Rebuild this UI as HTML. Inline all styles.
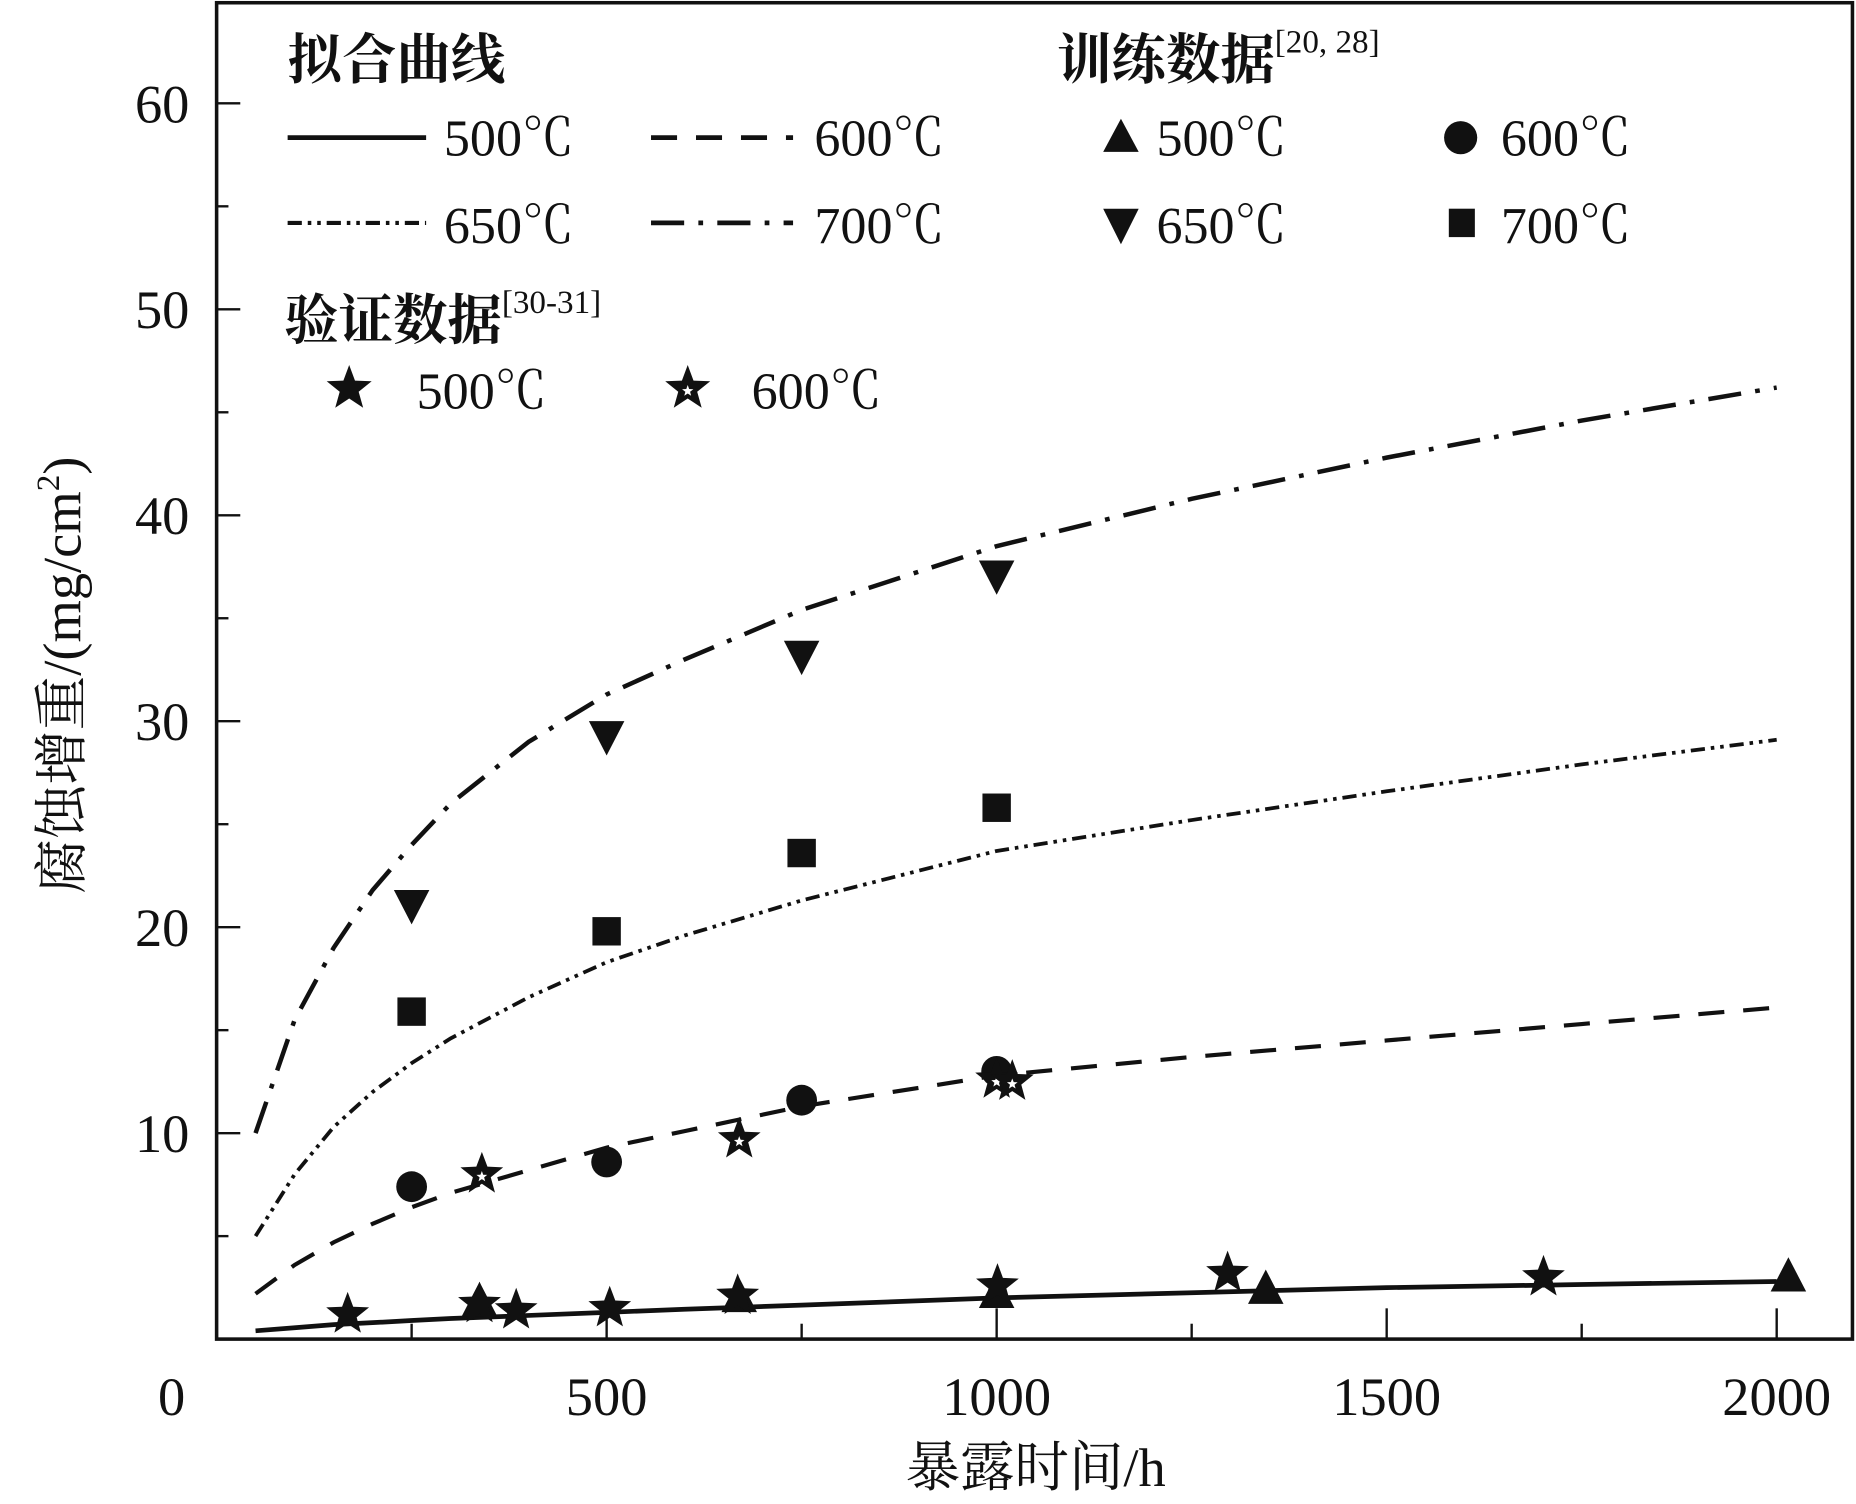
<!DOCTYPE html>
<html><head><meta charset="utf-8"><style>
html,body{margin:0;padding:0;background:#fff}
svg{display:block}
text{font-family:"Liberation Serif","Noto Serif CJK SC",serif;fill:#111}
</style></head><body>
<svg id="chart" width="1856" height="1504" viewBox="0 0 1568 1270" xmlns="http://www.w3.org/2000/svg">
<g id="axes"></g>
<g id="curves"></g>
<g id="marks"></g>
<g id="legend">
  <text x="243" y="66" font-size="46" font-weight="bold">拟合曲线</text>
  <text x="893" y="66" font-size="46" font-weight="bold">训练数据<tspan font-size="28" font-weight="normal" dy="-22">[20, 28]</tspan></text>
  <text x="240" y="286" font-size="46" font-weight="bold">验证数据<tspan font-size="28" font-weight="normal" dy="-22">[30-31]</tspan></text>
  <line x1="243" y1="116" x2="360" y2="116" stroke="#111" stroke-width="4"/>
  <text x="375" y="131" font-size="44">500℃</text>
  <line x1="550" y1="116" x2="670" y2="116" stroke="#111" stroke-width="4" stroke-dasharray="22,16"/>
  <text x="688" y="131" font-size="44">600℃</text>
  <line x1="243" y1="188" x2="360" y2="188" stroke="#111" stroke-width="3.5" stroke-dasharray="12,5,3,5,3,5"/>
  <text x="375" y="205" font-size="44">650℃</text>
  <line x1="550" y1="188" x2="670" y2="188" stroke="#111" stroke-width="4" stroke-dasharray="28,12,4,12"/>
  <text x="688" y="205" font-size="44">700℃</text>
  <polygon points="947,100 932,128 962,128" fill="#111"/>
  <text x="977" y="131" font-size="44">500℃</text>
  <circle cx="1234" cy="116" r="14" fill="#111"/>
  <text x="1268" y="131" font-size="44">600℃</text>
  <polygon points="932,176 962,176 947,206" fill="#111"/>
  <text x="977" y="205" font-size="44">650℃</text>
  <rect x="1224" y="176" width="22" height="24" fill="#111"/>
  <text x="1268" y="205" font-size="44">700℃</text>
  <g id="lgstars"></g>
  <text x="352" y="345" font-size="44">500℃</text>
  <text x="635" y="345" font-size="44">600℃</text>
</g>
</svg>
<script>
const NS='http://www.w3.org/2000/svg';
// ---- data ----
const xTicks=[0,500,1000,1500,2000];
const yTicks=[10,20,30,40,50,60];
const curveT=[50,100,150,200,250,300,400,500,600,750,1000,1250,1500,1750,2000];
const fit500=[0.4,0.55,0.7,0.8,0.9,1.0,1.15,1.3,1.45,1.65,2.0,2.25,2.5,2.65,2.8];
const fit600=[2.2,3.6,4.7,5.6,6.4,7.1,8.2,9.3,10.1,11.3,12.8,13.7,14.5,15.3,16.1];
const fit650=[5,8,10.3,12,13.4,14.6,16.6,18.3,19.6,21.3,23.7,25.2,26.6,27.9,29.1];
const fit700=[10,15.5,19,21.8,24,26,29,31.3,33,35.4,38.5,40.8,42.8,44.6,46.2];
const tri500T=[337,670,1000,1345,2015];
const tri500V=[1.8,2.0,2.2,2.4,3.0];
const star500T=[168,337,384,504,668,1001,1296,1701];
const star500V=[1.2,1.7,1.4,1.5,2.1,2.6,3.2,3.0];
const circ600T=[250,500,750,1000];
const circ600V=[7.4,8.6,11.6,13.0];
const star600T=[340,670,1000,1020];
const star600V=[8.0,9.7,12.6,12.5];
const tri650T=[250,500,750,1000];
const tri650V=[21,29.2,33.1,37];
const sq700T=[250,500,750,1000];
const sq700V=[15.9,19.8,23.6,25.8];
// ---- scales ----
const X=t=>183+t*0.659;
const Y=v=>1131-v*17.4;
const ax=document.getElementById('axes');
function mk(tag,attrs,parent){const e=document.createElementNS(NS,tag);for(const k in attrs)e.setAttribute(k,attrs[k]);parent.appendChild(e);return e;}
let e=mk('rect',{x:183,y:2,width:1382,height:1129,fill:'none',stroke:'#111','stroke-width':3},ax);


for(let t=250;t<=2000;t+=250){const big=t%500===0;
 e=mk('line',{x1:X(t),x2:X(t),y1:1131,y2:1131-(big?26:13),stroke:'#111','stroke-width':2},ax);
 
 }
xTicks.forEach(t=>{e=mk('text',{x:X(t)-(t===0?38:0),y:1195,'font-size':46,'text-anchor':'middle'},ax);e.textContent=t;
 
 });
for(let v=5;v<=60;v+=5){const big=v%10===0;
 e=mk('line',{x1:183,x2:183+(big?20:10),y1:Y(v),y2:Y(v),stroke:'#111','stroke-width':2},ax);
 
 }
yTicks.forEach(v=>{e=mk('text',{x:160,y:Y(v)+16,'font-size':46,'text-anchor':'end'},ax);e.textContent=v;
 
 });
e=mk('text',{x:875,y:1255,'font-size':46,'text-anchor':'middle'},ax);e.textContent='暴露时间/h';


e=mk('text',{x:0,y:0,'font-size':46,'text-anchor':'middle',transform:'translate(68,570) rotate(-90)'},ax);
e.innerHTML='腐蚀增重/(mg/cm<tspan font-size="28" dy="-18">2</tspan><tspan dy="18">)</tspan>';


// curves
const cg=document.getElementById('curves');
function curve(vals,dash,w,name){const d=curveT.map((t,i)=>(i?'L':'M')+X(t).toFixed(1)+','+Y(vals[i]).toFixed(1)).join('');
 const p=mk('path',{d:d,fill:'none',stroke:'#111','stroke-width':w,'stroke-dasharray':dash},cg);
 
 }
curve(fit500,'none',4,'fit-curve-500');
curve(fit600,'22,16',3.5,'fit-curve-600');
curve(fit650,'12,5,3,5,3,5',3.2,'fit-curve-650');
curve(fit700,'28,12,4,12',3.8,'fit-curve-700');
// markers
const mg=document.getElementById('marks');
function starPts(cx,cy,R){let s=[];for(let i=0;i<10;i++){const r=i%2?R*0.42:R;const a=-Math.PI/2+i*Math.PI/5;s.push((cx+r*Math.cos(a)).toFixed(1)+','+(cy+r*Math.sin(a)).toFixed(1));}return s.join(' ');}
function star(cx,cy,R,hollow,par,name){
 const p=mk('polygon',{points:starPts(cx,cy,R),fill:'#111'},par);
 
 
 if(hollow){const q=mk('polygon',{points:starPts(cx,cy+2,R*0.25),fill:'#fff'},par);
  
  }}
tri500T.forEach((t,i)=>{const x=X(t),y=Y(tri500V[i]);
 const p=mk('polygon',{points:`${x},${y-17} ${x-15},${y+12} ${x+15},${y+12}`,fill:'#111'},mg);
 
 });
star500T.forEach((t,i)=>star(X(t),Y(star500V[i]),19,false,mg,'point-valid-500'));
circ600T.forEach((t,i)=>{const c=mk('circle',{cx:X(t),cy:Y(circ600V[i]),r:13,fill:'#111'},mg);
 
 });
star600T.forEach((t,i)=>star(X(t),Y(star600V[i]),19,true,mg,'point-valid-600'));
tri650T.forEach((t,i)=>{const x=X(t),y=Y(tri650V[i]);
 const p=mk('polygon',{points:`${x-15},${y-14} ${x+15},${y-14} ${x},${y+15}`,fill:'#111'},mg);
 
 });
sq700T.forEach((t,i)=>{const r=mk('rect',{x:X(t)-12,y:Y(sq700V[i])-12,width:24,height:24,fill:'#111'},mg);
 
 });
const lg=document.getElementById('lgstars');
star(295,328,20,false,lg,'legend-marker-star-500');
star(581,328,20,true,lg,'legend-marker-star-600');
</script>
</body></html>
